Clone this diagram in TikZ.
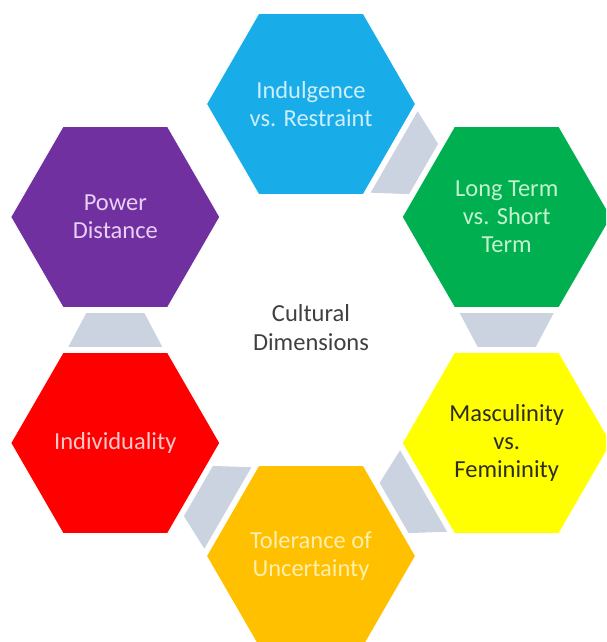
\documentclass[tikz,border=0pt]{standalone}
\usepackage{fontspec}
\setmainfont{Carlito}
\usetikzlibrary{shapes.geometric,calc}
\definecolor{hcyan}{RGB}{24,172,232}
\definecolor{hgreen}{RGB}{0,176,80}
\definecolor{hpurple}{RGB}{112,48,160}
\definecolor{hred}{RGB}{255,0,0}
\definecolor{hyellow}{RGB}{255,255,0}
\definecolor{horange}{RGB}{255,192,0}
\definecolor{hgray}{RGB}{203,210,224}
\definecolor{tcyan}{RGB}{205,238,252}
\definecolor{tgreen}{RGB}{195,242,205}
\definecolor{tpurple}{RGB}{232,208,246}
\definecolor{tred}{RGB}{255,200,200}
\definecolor{tyellow}{RGB}{45,45,30}
\definecolor{torange}{RGB}{255,238,175}
\definecolor{tcenter}{RGB}{64,64,64}
\newcommand\hexconn[2]{%
  \coordinate (cw) at ($(#1)!0.4248!(#2)$);
  \coordinate (cn) at ($(#1)!0.5752!(#2)$);
  \fill[connfill] ($(cw)!47pt!90:(#2)$) -- ($(cn)!29pt!90:(#2)$) -- ($(cn)!29pt!-90:(#2)$) -- ($(cw)!47pt!-90:(#2)$) -- cycle;}
\begin{document}
\begin{tikzpicture}[x=1pt,y=-1pt,
  hexbox/.style={regular polygon, regular polygon sides=6, minimum size=209pt, inner sep=0pt, draw=white, line width=0.8pt, align=center, font=\fontsize{24.5}{28}\selectfont},
  connfill/.style={fill=hgray},
  centertext/.style={align=center, text=tcenter, font=\fontsize{24.5}{29}\selectfont}]
\useasboundingbox (0,0) rectangle (606,642);
\clip (0,0) rectangle (606,642);
\fill[white] (0,0) rectangle (606,642);
\node[hexbox, fill=hcyan, text=tcyan] (indul) at (311,104) {Indulgence\\vs. Restraint};
\node[hexbox, fill=hgreen, text=tgreen] (long) at (506.7,217) {Long Term\\vs. Short\\Term};
\node[hexbox, fill=hyellow, text=tyellow] (masc) at (506.7,443) {Masculinity\\vs.\\Femininity};
\node[hexbox, fill=horange, text=torange] (toler) at (311,556) {Tolerance of\\Uncertainty};
\node[hexbox, fill=hred, text=tred] (indiv) at (115.3,443) {Individuality};
\node[hexbox, fill=hpurple, text=tpurple] (power) at (115.3,217) {Power\\Distance};
\node[centertext] (center) at (311,328) {Cultural\\Dimensions};
\hexconn{indul}{long}
\hexconn{long}{masc}
\hexconn{masc}{toler}
\hexconn{toler}{indiv}
\hexconn{indiv}{power}
\end{tikzpicture}
\end{document}
